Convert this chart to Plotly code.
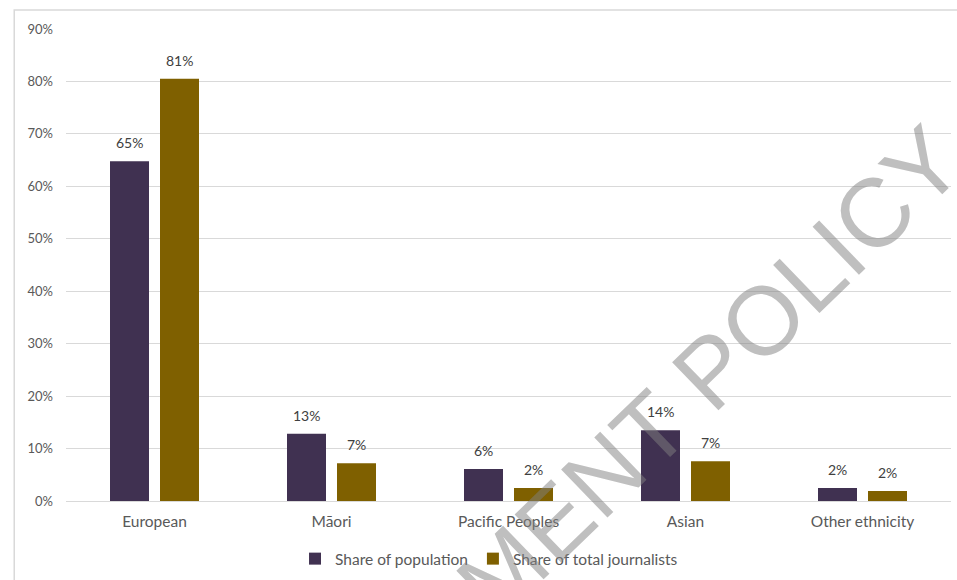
import plotly.graph_objects as go

categories = ["European", "Māori", "Pacific Peoples", "Asian", "Other ethnicity"]
share_population = [64.8, 12.8, 6.1, 13.5, 2.5]
share_journalists = [80.5, 7.2, 2.5, 7.6, 1.9]
pop_labels = ["65%", "13%", "6%", "14%", "2%"]
jour_labels = ["81%", "7%", "2%", "7%", "2%"]
y_ticks = [0, 10, 20, 30, 40, 50, 60, 70, 80, 90]
y_tick_labels = [f"{v}%" for v in y_ticks]

FONT = "Lato, 'Open Sans', sans-serif"
TXT = "#595959"

fig = go.Figure()
fig.add_trace(go.Bar(
    name="Share of population", x=categories, y=share_population,
    marker=dict(color="#403151", line=dict(width=0)),
))
fig.add_trace(go.Bar(
    name="Share of total journalists", x=categories, y=share_journalists,
    marker=dict(color="#7F6000", line=dict(width=0)),
))

# data labels placed above bars
for vals, labels, shift in [(share_population, pop_labels, -25), (share_journalists, jour_labels, 25)]:
    for c, v, t in zip(categories, vals, labels):
        fig.add_annotation(x=c, y=v, xref="x", yref="y", text=t, showarrow=False,
                           xshift=shift, yshift=8, yanchor="bottom", xanchor="center",
                           font=dict(family=FONT, size=14, color="#404040"))

fig.update_layout(
    width=957, height=580,
    margin=dict(l=66, r=6, t=29, b=79, autoexpand=False),
    paper_bgcolor="white", plot_bgcolor="white",
    barmode="group", bargap=0.435, bargroupgap=0.22,
    font=dict(family=FONT, size=15, color=TXT),
    showlegend=True,
    legend=dict(orientation="h", x=0.478, xanchor="center", y=-0.123, yanchor="middle",
                font=dict(family=FONT, size=15.5, color=TXT),
                itemwidth=30, tracegroupgap=0),
    xaxis=dict(showline=False, ticks="", tickfont=dict(size=15.5, color=TXT), showgrid=False,
               ticklabelstandoff=9),
    yaxis=dict(range=[0, 90], tickvals=y_ticks, ticktext=y_tick_labels,
               showgrid=True, gridcolor="#D9D9D9", gridwidth=1,
               zeroline=True, zerolinecolor="#D9D9D9", zerolinewidth=1,
               showline=False, ticks="", ticklabelstandoff=12,
               tickfont=dict(size=13, color=TXT)),
)

# outer chart border
fig.add_shape(type="rect", xref="paper", yref="paper",
              x0=-0.0585, x1=1.05, y0=-0.3, y1=1.0402,
              line=dict(color="#D9D9D9", width=1.5), fillcolor="rgba(0,0,0,0)", layer="below")

# watermark
fig.add_annotation(text="GOVERNMENT POLICY", xref="paper", yref="paper",
                   x=(558 - 66) / 885, y=(501 - 518) / 472, showarrow=False,
                   textangle=-44, font=dict(family="Liberation Sans, Arial", size=97,
                                            color="rgba(128,128,128,0.5)"),
                   xanchor="center", yanchor="middle")

fig.write_html("out.html")
